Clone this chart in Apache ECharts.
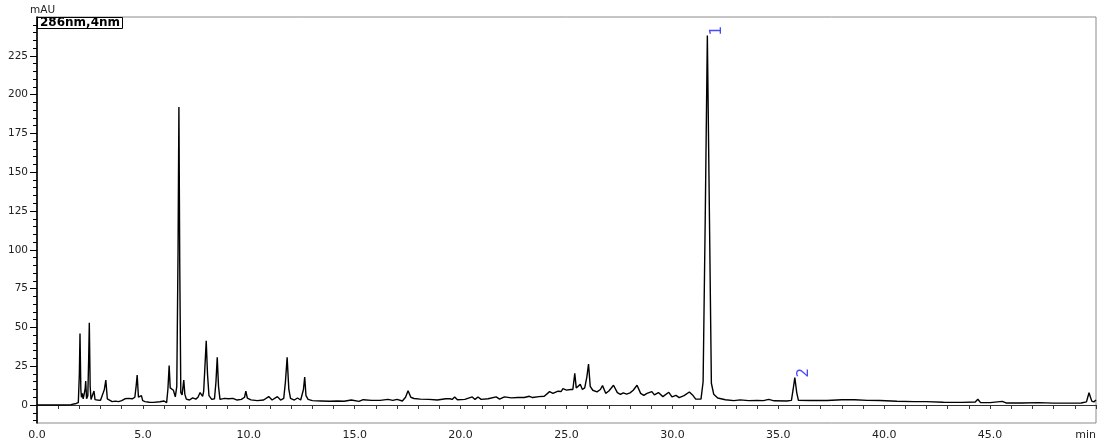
<!DOCTYPE html>
<html>
<head>
<meta charset="utf-8">
<script src="https://cdn.jsdelivr.net/npm/echarts@6/dist/echarts.min.js"></script>
<style>html,body{margin:0;padding:0;background:#fff;}#chart{width:1099px;height:441px;}</style>
</head>
<body>
<div id="chart"></div>
<script>
// Chromatogram trace: [retention time (min), absorbance (mAU)]
var trace = [
[0,0],[1.0,0],[1.6,0.2],[1.85,1.0],[1.95,1.5],
[2.00,20],[2.03,46],[2.07,10],[2.10,5],[2.14,7.5],[2.18,4],[2.22,3.5],[2.27,10],[2.30,15.5],[2.34,4],[2.40,6],[2.44,30],[2.47,53],[2.51,12],[2.55,3.5],[2.62,4],[2.69,9],[2.74,3.5],[2.85,3.2],[3.0,3.0],[3.13,8],[3.18,10],[3.25,16],[3.32,4],[3.40,3.2],[3.55,2.2],[3.70,2.5],[3.85,2.2],[4.0,2.8],[4.15,4],[4.30,4.3],[4.50,4],[4.62,5],[4.68,12],[4.73,19.3],[4.79,5],[4.85,3.8],[4.93,6],[4.99,2.8],[5.1,2.2],[5.3,1.8],[5.5,1.7],[5.8,2.1],[6.0,2.6],[6.12,1.5],[6.18,10],[6.24,25.4],[6.29,11],[6.35,10.5],[6.44,9.5],[6.53,5.2],[6.60,12],[6.66,100],[6.70,192],[6.74,90],[6.79,8],[6.85,6.5],[6.93,16],[6.98,7],[7.05,3.8],[7.2,3.2],[7.35,4.6],[7.5,3.8],[7.60,5],[7.70,8],[7.77,8.5],[7.82,5.5],[7.87,9],[7.93,25],[7.99,41.3],[8.05,20],[8.12,6],[8.25,3.6],[8.38,4],[8.45,15],[8.51,30.7],[8.57,12],[8.64,3.6],[8.85,4.3],[9.05,4],[9.25,4.3],[9.45,3.2],[9.65,3.6],[9.80,5],[9.86,9],[9.93,4.5],[10.1,3.3],[10.4,2.8],[10.7,3.2],[10.94,5.4],[11.1,3.2],[11.35,5.4],[11.5,3.2],[11.65,4.3],[11.73,15],[11.81,30.7],[11.89,10],[11.97,4.3],[12.15,3.2],[12.30,4.5],[12.45,3.2],[12.58,10],[12.64,18],[12.70,6],[12.80,3.6],[13.0,2.8],[13.4,2.6],[13.8,2.4],[14.2,2.6],[14.5,2.4],[14.84,3.2],[15.2,2.3],[15.4,3.4],[15.8,3.0],[16.2,3.0],[16.57,3.6],[16.8,3.0],[17.0,3.6],[17.25,2.6],[17.40,5],[17.52,9.2],[17.65,5],[17.8,4.2],[18.1,3.8],[18.5,3.6],[18.9,3.2],[19.3,4],[19.5,4],[19.6,3.6],[19.72,5.2],[19.85,3.4],[20.2,3.6],[20.55,5.2],[20.68,3.6],[20.82,5.2],[20.97,3.6],[21.3,4],[21.68,5.2],[21.84,3.8],[22.07,5.2],[22.4,4.6],[22.7,4.8],[23.0,4.8],[23.25,5.6],[23.4,4.8],[23.7,5.4],[23.95,5.6],[24.2,8.6],[24.36,7.5],[24.6,8.9],[24.75,8.7],[24.83,10.5],[25.0,9.6],[25.2,10],[25.3,10],[25.39,20.4],[25.46,11],[25.55,12],[25.65,13.3],[25.75,10],[25.86,11],[25.96,18],[26.04,26.4],[26.12,12],[26.24,9.5],[26.44,8.5],[26.6,10],[26.70,12.5],[26.85,7.5],[27.0,9],[27.22,12.7],[27.40,8],[27.55,6.8],[27.68,7.8],[27.84,7],[28.0,7.8],[28.15,9.5],[28.33,12.7],[28.5,7.5],[28.65,6.2],[28.8,7.5],[29.03,8.6],[29.15,6.5],[29.34,8],[29.55,5.4],[29.83,8.2],[29.98,5.2],[30.17,6.2],[30.32,4.8],[30.55,6],[30.8,8.4],[30.95,6.5],[31.1,3.8],[31.35,3.8],[31.45,15],[31.55,120],[31.65,238],[31.75,120],[31.84,14],[31.95,7],[32.14,4.5],[32.5,3.4],[32.9,2.8],[33.2,3.3],[33.6,2.8],[34.0,3.0],[34.3,2.8],[34.55,3.6],[34.8,2.7],[35.4,2.6],[35.62,3.0],[35.70,10],[35.78,17.6],[35.87,8],[35.95,3.0],[36.5,2.9],[37.3,2.9],[38.0,3.4],[38.6,3.4],[39.2,3.0],[39.8,2.9],[40.6,2.4],[41.4,2.2],[42.0,2.2],[42.8,1.8],[43.7,1.7],[44.30,1.9],[44.42,3.7],[44.55,1.5],[45.0,1.5],[45.58,2.3],[45.75,1.3],[46.5,1.3],[47.3,1.5],[48.0,1.2],[48.7,1.2],[49.3,1.3],[49.55,2],[49.67,7.9],[49.80,2.5],[49.9,2.0],[50.0,3.2]
];

// Identified peaks
var peakNames = ['1', '2'];
var peakTimes = [31.65, 35.78];
var peakHeights = [238, 17.6];

// Axis ticks and labels
var yLabelValues = [0, 25, 50, 75, 100, 125, 150, 175, 200, 225];
var yMinorValues = [-10, -5, 0, 5, 10, 15, 20, 25, 30, 35, 40, 45, 50, 55, 60, 65, 70, 75, 80, 85, 90, 95, 100, 105, 110, 115, 120, 125, 130, 135, 140, 145, 150, 155, 160, 165, 170, 175, 180, 185, 190, 195, 200, 205, 210, 215, 220, 225, 230, 235, 240, 245];
var xLabelValues = [0, 5, 10, 15, 20, 25, 30, 35, 40, 45, 50];
var xTickValues = [0,1,2,3,4,5,6,7,8,9,10,11,12,13,14,15,16,17,18,19,20,21,22,23,24,25,26,27,28,29,30,31,32,33,34,35,36,37,38,39,40,41,42,43,44,45,46,47,48,49,50];
var xUnitLabel = 'min';
var yUnitLabel = 'mAU';
var channelLabel = '286nm,4nm';

var FONT = 'DejaVu Sans';
var chart = echarts.init(document.getElementById('chart'), null, {renderer: 'canvas'});

var peakData = peakNames.map(function (n, i) {
  return {name: n, value: [peakTimes[i], peakHeights[i]]};
});

chart.setOption({
  animation: false,
  backgroundColor: '#ffffff',
  title: {
    text: channelLabel,
    left: 37, top: 17,
    padding: [0, 3],
    borderColor: '#000', borderWidth: 1,
    textStyle: {fontFamily: FONT, fontSize: 12, fontWeight: 'bold', color: '#000', lineHeight: 12}
  },
  grid: {
    left: 37, right: 2, top: 17, bottom: 18,
    show: true, borderColor: '#8a8a8a', borderWidth: 1, backgroundColor: 'transparent'
  },
  xAxis: {
    type: 'value', min: 0, max: 50,
    axisLine: {show: true, lineStyle: {color: '#333', width: 1}},
    axisTick: {show: true, customValues: xTickValues, length: 4, lineStyle: {color: '#333'}},
    axisLabel: {
      customValues: xLabelValues, margin: 7,
      fontFamily: FONT, fontSize: 11, color: '#222',
      alignMaxLabel: 'right',
      formatter: function (v) { return v === 50 ? xUnitLabel : v.toFixed(1); }
    },
    splitLine: {show: false}
  },
  yAxis: [{
    type: 'value', min: -11.6, max: 250, position: 'left',
    name: yUnitLabel, nameLocation: 'end', nameGap: 1,
    nameTextStyle: {fontFamily: FONT, fontSize: 10.5, color: '#222', align: 'left', padding: [0, 0, 0, -7]},
    axisLine: {show: true, lineStyle: {color: '#000', width: 1.6}},
    axisTick: {show: true, customValues: yLabelValues, length: 7, lineStyle: {color: '#000'}},
    axisLabel: {customValues: yLabelValues, margin: 9, fontFamily: FONT, fontSize: 10.5, color: '#222'},
    splitLine: {show: false}
  }, {
    type: 'value', min: -11.6, max: 250, position: 'left',
    axisLine: {show: false},
    axisTick: {show: true, customValues: yMinorValues, length: 4, lineStyle: {color: '#000'}},
    axisLabel: {show: false},
    splitLine: {show: false}
  }],
  series: [{
    name: channelLabel,
    type: 'line',
    data: trace,
    xAxisIndex: 0, yAxisIndex: 0,
    showSymbol: false, symbol: 'none',
    lineStyle: {color: '#000', width: 1.4},
    z: 3
  }, {
    name: 'peaks',
    type: 'scatter',
    data: peakData,
    xAxisIndex: 0, yAxisIndex: 0,
    symbolSize: 0,
    label: {
      show: true, position: 'inside', formatter: '{b}', rotate: 90,
      fontFamily: FONT, fontSize: 15, color: '#1a1aff', offset: [5, 9.5]
    },
    z: 4
  }]
});
</script>
</body>
</html>
